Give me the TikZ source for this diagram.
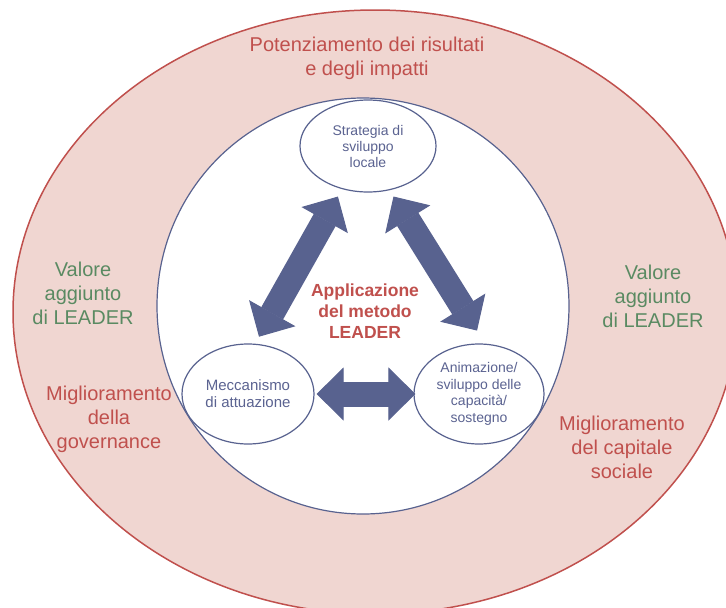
\documentclass[tikz,border=0pt]{standalone}
\usepackage{fontspec}
\setmainfont{Liberation Sans}
\usepackage{xcolor}
\usetikzlibrary{shapes.geometric,arrows.meta,positioning}

\definecolor{ringred}{HTML}{C0504D}
\definecolor{ringfill}{HTML}{F0D6D1}
\definecolor{leafgreen}{HTML}{5A8A62}
\definecolor{coreblue}{HTML}{58628F}
\definecolor{corelabel}{HTML}{5B6391}

\begin{document}
\begin{tikzpicture}[x=1pt, y=-1pt]
  % Styles
  \tikzstyle{pillar} = [ellipse, draw=coreblue, fill=white, line width=1.2pt, inner sep=0pt, text=corelabel, align=center]
  \tikzstyle{ringtext} = [align=center, font=\fontsize{20}{24}\selectfont]
  \tikzstyle{bigarrow} = [draw=coreblue, line width=25pt, arrows={Triangle[length=27pt,width=53pt,line width=1pt]-Triangle[length=27pt,width=53pt,line width=1pt]}]

  \useasboundingbox (0,0) rectangle (726,608);
  \clip (0,0) rectangle (726,608);

  % Rings
  \draw [ringred, fill=ringfill, line width=1.5pt] (375,312) ellipse [x radius=362, y radius=302];
  \draw [coreblue, fill=white, line width=1.2pt] (363,306) ellipse [x radius=206, y radius=208];

  % Nodes
  \node [pillar, minimum width=136, minimum height=92, font=\fontsize{14}{16}\selectfont] (strategy) at (368,146) {Strategia di\\sviluppo\\locale};
  \node [pillar, minimum width=132, minimum height=100, font=\fontsize{15}{17}\selectfont] (mechanism) at (248,394) {Meccanismo\\di attuazione};
  \node [pillar, minimum width=130, minimum height=100, font=\fontsize{14}{16.5}\selectfont, right of=mechanism, node distance=231pt] (animation) {Animazione/\\sviluppo delle\\capacit\`a/\\sostegno};
  \node [align=center, text=ringred, font=\bfseries\fontsize{17.5}{21}\selectfont] (method) at (365,311) {Applicazione\\del metodo\\LEADER};

  % Ring labels
  \node [ringtext, text=ringred] (results) at (367,58) {Potenziamento dei risultati\\e degli impatti};
  \node [ringtext, text=leafgreen] (addedL) at (83,293) {Valore\\aggiunto\\di LEADER};
  \node [ringtext, text=ringred] (governance) at (109,419) {Miglioramento\\della\\governance};
  \node [ringtext, text=leafgreen] (addedR) at (653,296) {Valore\\aggiunto\\di LEADER};
  \node [ringtext, text=ringred] (capital) at (622,447) {Miglioramento\\del capitale\\sociale};

  % Paths / Edges
  \draw [bigarrow, shorten <=8.5pt, shorten >=8pt] (strategy.239) -- (mechanism.82);
  \draw [bigarrow, shorten <=7.4pt, shorten >=15.4pt] (strategy.296) -- (animation.83);
  \draw [bigarrow, shorten <=2pt, shorten >=-2pt] (mechanism.east) -- (animation.west);

\end{tikzpicture}
\end{document}
